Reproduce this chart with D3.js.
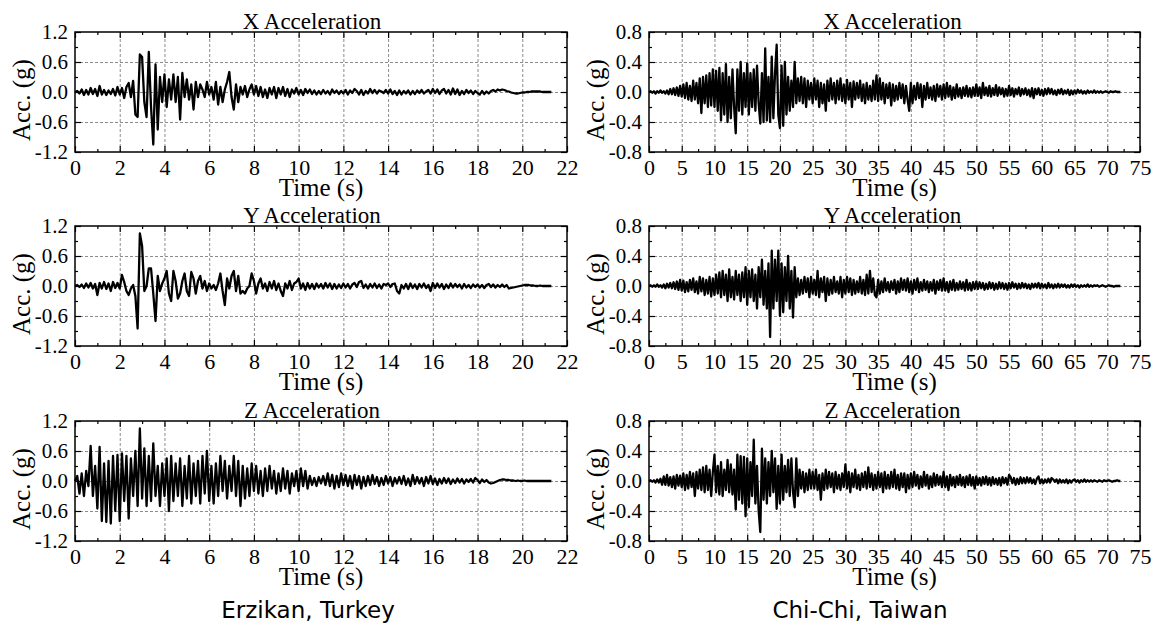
<!DOCTYPE html>
<html>
<head>
<meta charset="utf-8">
<script src="https://cdn.jsdelivr.net/npm/d3@7"></script>
<style>
  body { margin: 0; background: #fff; }
  svg { display: block; }
  .tick text { font-family: "Liberation Serif", "Times New Roman", serif; fill: #000; }
  .grid line { stroke: #8c8c8c; stroke-dasharray: 3,2; stroke-width: 1; }
  .grid .domain { display: none; }
  .frame .domain { display: none; }
  .frame line { stroke: #000; stroke-width: 1.2; }
  .title, .axis-label { font-family: "Liberation Serif", "Times New Roman", serif; fill: #000; }
  .caption { font-family: "DejaVu Sans", Verdana, sans-serif; fill: #000; }
  .trace { fill: none; stroke: #000; stroke-width: 2.3; stroke-linejoin: round; }
</style>
</head>
<body>
<div id="chart"></div>
<script>
/* CONSTANTS AND GLOBALS */
const width = 1154,
  height = 626;

// sample spacing (s) of the hand-read records
const erzStep = 0.1;
const chiStep = 0.25;

/* DATA */
// Erzikan, Turkey, dt = 0.1 s
const erzX = [
  0, 0.02, -0.03, 0.05, -0.06, 0.04, -0.05, 0.08, -0.04, 0.06,
  -0.08, 0.12, -0.05, 0.04, -0.06, 0.03, -0.04, 0.06, -0.07, 0.1,
  -0.05, 0.08, -0.12, 0.1, 0.18, -0.1, 0.22, -0.45, -0.5, 0.75,
  0.7, -0.2, -0.5, 0.8, -0.3, -1.05, 0.55, -0.75, 0.3, -0.2,
  0.35, -0.3, 0.25, -0.15, 0.35, -0.2, 0.3, -0.55, 0.38, -0.1,
  0.25, -0.15, 0.15, -0.35, 0.2, -0.1, 0.15, 0.05, -0.1, 0.2,
  -0.05, 0.1, -0.15, 0.2, -0.25, 0.1, -0.2, 0.05, 0.2, 0.4,
  -0.1, -0.35, 0.15, -0.2, 0.1, -0.05, 0.12, -0.1, 0.05, 0.15,
  -0.05, 0.12, -0.08, 0.1, -0.1, 0.05, -0.12, 0.08, -0.05, 0.1,
  -0.12, 0.08, -0.05, 0.1, -0.08, 0.06, -0.1, 0.05, -0.03, 0.08,
  -0.05, 0.04, -0.06, 0.06, -0.02, 0.05, -0.04, 0.03, -0.05, 0.02,
  -0.04, 0.04, -0.03, 0.02, -0.05, 0.05, -0.02, 0.03, -0.04, 0.02,
  -0.03, 0.04, -0.05, 0.03, -0.02, 0.06, 0.02, -0.05, 0.04, -0.06,
  0.02, -0.03, 0.06, -0.02, 0.04, -0.03, 0.03, 0.01, -0.02, 0.04,
  -0.03, 0.05, -0.04, 0.02, -0.06, 0.03, -0.05, 0.02, -0.03, 0.03,
  -0.05, 0.02, -0.04, 0.03, -0.02, 0.04, -0.03, 0.01, 0.04, -0.03,
  0.06, -0.02, 0.05, -0.04, 0.03, 0.06, -0.03, 0.04, -0.05, 0.07,
  -0.04, 0.05, -0.06, 0.02, -0.04, 0.04, -0.02, 0.03, -0.04, 0.02,
  -0.02, -0.05, 0.02, -0.04, 0.01, -0.03, 0.02, 0.04, 0.01, 0.05,
  0.03, 0.05, 0.04, 0.02, 0.01, -0.01, -0.02, -0.03, -0.03, -0.02,
  -0.01, -0.01, 0, 0, 0.01, 0.01, 0.01, 0.01, 0.01, 0,
  0, 0, 0, 0
];

const erzY = [
  0, 0.02, -0.02, 0.03, -0.04, 0.05, -0.03, 0.06, -0.05, 0.04,
  -0.18, 0.06, -0.05, 0.08, -0.06, 0.05, -0.1, 0.08, -0.04, 0.06,
  -0.05, 0.22, 0.08, -0.1, -0.18, -0.05, 0.02, -0.2, -0.85, 1.05,
  0.8, -0.1, 0, 0.35, 0.35, -0.15, -0.7, 0.2, -0.1, 0.05,
  0.15, 0.3, -0.15, -0.3, 0.3, 0.1, -0.25, -0.15, 0.1, 0.25,
  -0.1, -0.2, 0.28, 0.15, -0.15, 0.1, 0.2, -0.05, 0.1, -0.1,
  0.05, -0.05, 0.02, -0.08, 0.05, 0.25, -0.1, -0.38, 0.15, -0.05,
  0.2, 0.3, -0.1, 0.2, -0.15, -0.1, -0.15, -0.05, 0, 0.25,
  0.1, -0.15, 0.05, 0.15, -0.05, 0.05, -0.1, 0.08, -0.05, 0.1,
  -0.08, 0.05, -0.1, -0.2, 0.05, -0.05, 0.1, -0.08, 0.05, 0.08,
  0.15, -0.05, 0.05, -0.08, 0.06, -0.05, 0.04, -0.06, 0.05, -0.03,
  0.04, -0.05, 0.06, -0.03, 0.05, -0.06, 0.04, -0.05, 0.03, -0.04,
  0.05, -0.03, 0.04, -0.05, 0.03, 0.06, -0.02, 0.08, 0.1, -0.04,
  0.03, -0.05, 0.04, -0.03, 0.05, -0.04, 0.03, -0.05, 0.04, 0.02,
  0.05, -0.02, 0.04, 0.05, -0.1, -0.15, 0.02, -0.05, 0.04, -0.06,
  0.05, -0.04, 0.03, -0.06, 0.04, -0.03, 0.05, -0.04, 0.02, -0.1,
  0.06, -0.04, 0.05, -0.03, 0.04, -0.06, 0.03, -0.04, 0.05, -0.03,
  0.04, -0.02, 0.03, -0.05, 0.04, -0.03, 0.02, -0.04, 0.03, -0.02,
  0.03, -0.03, 0.02, -0.04, 0.02, 0.04, -0.02, 0.03, -0.03, 0.02,
  -0.02, 0.03, -0.02, 0.02, -0.05, -0.04, -0.03, -0.02, -0.01, 0,
  0.01, 0.02, 0.02, 0.02, 0.01, 0.01, 0, 0, 0.01, 0,
  0, 0, 0, 0
];

const erzZ = [
  0, 0.1, -0.25, 0.15, -0.3, 0.2, -0.1, 0.7, -0.3, 0.3,
  -0.55, 0.68, -0.8, 0.35, -0.82, 0.4, -0.85, 0.5, -0.6, 0.52,
  -0.8, 0.55, -0.4, 0.5, -0.75, 0.45, -0.3, 0.6, -0.5, 1.05,
  -0.35, 0.65, -0.5, 0.5, -0.4, 0.75, -0.3, 0.3, -0.5, 0.35,
  -0.3, 0.45, -0.6, 0.5, -0.4, 0.35, -0.3, 0.45, -0.5, 0.3,
  -0.35, 0.5, -0.45, 0.35, -0.3, 0.4, -0.45, 0.5, -0.25, 0.6,
  -0.4, 0.3, -0.45, 0.35, -0.3, 0.5, -0.2, 0.4, -0.35, 0.3,
  -0.2, 0.5, -0.3, 0.4, -0.5, 0.3, -0.35, 0.25, -0.3, 0.35,
  -0.2, 0.3, -0.25, 0.2, -0.3, 0.25, -0.2, 0.3, -0.15, 0.2,
  -0.25, 0.15, -0.2, 0.25, -0.15, 0.2, -0.25, 0.15, -0.1, 0.2,
  -0.2, 0.25, -0.1, 0.2, -0.15, 0.1, -0.08, 0.06, -0.1, 0.08,
  -0.05, 0.1, -0.08, 0.15, -0.1, 0.12, -0.15, 0.1, -0.12, 0.15,
  -0.08, 0.12, -0.1, 0.1, -0.15, 0.12, -0.08, 0.1, -0.15, 0.08,
  -0.1, 0.1, -0.08, 0.12, -0.06, 0.08, -0.1, 0.06, -0.08, 0.1,
  -0.05, 0.08, -0.1, 0.06, -0.05, 0.08, -0.06, 0.1, -0.08, 0.05,
  -0.1, 0.12, -0.06, 0.08, -0.05, 0.06, -0.1, 0.08, -0.05, 0.1,
  -0.06, 0.05, -0.08, 0.04, -0.05, 0.06, -0.04, 0.05, -0.06, 0.03,
  -0.04, 0.05, -0.03, 0.04, -0.05, 0.03, -0.02, 0.04, -0.03, 0.06,
  0.02, -0.04, 0.03, -0.02, 0.02, -0.03, -0.05, -0.04, -0.02, 0,
  0.02, 0.03, 0.03, 0.02, 0.02, 0.01, 0.01, 0, 0.01, 0,
  0, 0.01, 0, 0, 0, 0, 0, 0, 0, 0,
  0, 0, 0, 0
];

// Chi-Chi, Taiwan, dt = 0.25 s
const chiX = [
  0, 0.01, -0.01, 0.01, -0.02, 0.01, -0.01, 0.02, -0.01, 0.01, -0.02, 0.02, -0.03, 0.04, -0.03, 0.05, -0.04, 0.06, -0.05, 0.08,
  -0.06, 0.1, -0.08, 0.12, -0.1, 0.08, -0.12, 0.15, -0.1, 0.12, -0.15, 0.18, -0.28, 0.2, -0.15, 0.22, -0.2, 0.25, -0.18, 0.3,
  -0.2, 0.28, -0.25, 0.32, -0.38, 0.25, -0.3, 0.37, -0.4, 0.2, -0.35, 0.3, -0.2, -0.55, 0.3, -0.25, 0.4, -0.3, 0.25, -0.2,
  0.38, -0.3, 0.25, -0.2, 0.3, -0.25, 0.35, -0.15, -0.42, 0.25, -0.4, 0.58, -0.38, 0.2, -0.4, 0.47, -0.35, 0.25, 0.63, -0.3,
  -0.48, 0.35, -0.45, 0.4, -0.3, 0.2, -0.25, 0.15, -0.2, 0.4, -0.15, 0.18, -0.12, 0.2, -0.15, 0.18, -0.2, 0.15, -0.1, 0.12,
  -0.15, 0.18, -0.1, 0.15, -0.2, 0.12, -0.15, 0.1, -0.25, 0.15, -0.12, 0.18, -0.1, 0.12, -0.15, 0.15, -0.1, 0.18, -0.12, 0.1,
  -0.15, 0.16, -0.1, 0.12, -0.2, 0.14, -0.1, 0.12, -0.08, 0.15, -0.12, 0.1, -0.15, 0.12, -0.1, 0.08, -0.12, 0.15, -0.1, 0.22,
  -0.12, 0.18, -0.1, 0.12, -0.15, 0.1, -0.08, 0.12, -0.18, 0.1, -0.12, 0.08, -0.1, 0.12, -0.08, 0.1, -0.15, 0.08, -0.1, -0.25,
  0.12, -0.15, 0.08, -0.1, 0.12, -0.08, 0.1, -0.2, 0.08, -0.1, 0.12, -0.08, 0.06, -0.1, 0.08, -0.12, 0.1, -0.06, 0.08, -0.1,
  0.1, -0.08, 0.12, -0.06, 0.08, -0.1, 0.06, -0.08, 0.1, -0.06, 0.05, -0.08, 0.06, -0.05, 0.08, -0.06, 0.05, -0.07, 0.06, -0.05,
  0.1, -0.05, 0.06, -0.08, 0.12, -0.04, 0.06, -0.05, 0.08, -0.06, 0.05, -0.04, 0.09, -0.05, 0.06, -0.03, 0.05, -0.06, 0.04, -0.05,
  0.08, -0.04, 0.05, -0.06, 0.04, -0.03, 0.06, -0.05, 0.04, -0.03, 0.05, -0.04, 0.03, -0.06, 0.05, -0.08, 0.04, -0.03, 0.05, -0.04,
  0.03, -0.05, 0.04, -0.03, 0.05, -0.02, 0.04, -0.03, 0.02, -0.04, 0.03, -0.02, 0.04, -0.03, 0.02, -0.02, 0.03, -0.04, 0.02, -0.03,
  0.02, -0.02, 0.03, -0.01, 0.02, -0.02, 0.01, -0.02, 0.02, -0.01, 0.01, -0.01, 0.02, -0.01, 0.01, -0.01, 0.01, -0.01, 0, 0.01,
  0, -0.01, 0.01, 0, 0, 0.01, 0, 0, 0
];

const chiY = [
  0, 0.01, -0.01, 0.01, -0.01, 0.02, -0.01, 0.01, -0.02, 0.02, -0.03, 0.03, -0.02, 0.04, -0.03, 0.05, -0.04, 0.06, -0.05, 0.08,
  -0.06, 0.07, -0.08, 0.05, -0.07, 0.08, -0.05, 0.1, -0.08, 0.06, -0.1, 0.12, -0.07, 0.1, -0.12, 0.08, -0.1, 0.12, -0.14, 0.1,
  -0.12, 0.15, -0.1, 0.18, -0.15, 0.2, -0.12, 0.15, -0.2, 0.22, -0.15, 0.12, -0.18, 0.2, -0.12, 0.15, -0.2, 0.18, -0.15, 0.25,
  -0.25, 0.2, -0.15, 0.22, -0.2, 0.15, -0.3, 0.25, -0.15, 0.35, -0.25, 0.2, -0.3, 0.3, -0.68, 0.47, -0.3, 0.35, -0.2, 0.47,
  -0.4, 0.3, -0.35, 0.25, -0.2, 0.4, -0.3, 0.2, -0.42, 0.25, -0.15, 0.1, -0.12, 0.08, -0.1, 0.12, -0.08, 0.1, -0.15, 0.12,
  -0.1, 0.08, -0.12, 0.2, -0.15, 0.1, -0.08, 0.12, -0.2, 0.1, -0.12, 0.08, -0.1, 0.12, -0.08, 0.06, -0.1, 0.12, -0.15, 0.08,
  -0.1, 0.12, -0.08, 0.1, -0.12, 0.08, -0.1, 0.06, -0.08, 0.12, -0.1, 0.08, -0.12, 0.15, -0.1, 0.2, -0.08, 0.1, -0.12, -0.15,
  0.08, -0.1, 0.06, -0.08, 0.1, -0.06, 0.05, -0.08, 0.06, -0.05, 0.08, -0.1, 0.06, -0.08, 0.1, -0.05, 0.08, -0.06, 0.1, -0.08,
  0.06, -0.1, 0.08, -0.05, 0.1, -0.08, 0.05, -0.06, 0.08, -0.05, 0.06, -0.08, 0.05, -0.06, 0.08, -0.1, 0.06, -0.05, 0.08, -0.06,
  0.1, -0.06, 0.05, -0.08, 0.06, -0.05, 0.08, -0.06, 0.04, -0.05, 0.06, -0.04, 0.05, -0.06, 0.08, -0.05, 0.04, -0.06, 0.05, -0.04,
  0.06, -0.04, 0.05, -0.03, 0.04, -0.05, 0.03, -0.04, 0.05, -0.03, 0.04, -0.05, 0.03, -0.04, 0.05, -0.03, 0.04, -0.04, 0.03, -0.05,
  0.04, -0.03, 0.05, -0.02, 0.03, -0.04, 0.03, -0.03, 0.04, -0.02, 0.03, -0.03, 0.02, -0.04, 0.03, -0.02, 0.03, -0.02, 0.04, -0.03,
  0.03, -0.02, 0.02, -0.03, 0.04, -0.02, 0.02, -0.03, 0.02, -0.02, 0.03, -0.02, 0.02, -0.01, 0.02, -0.02, 0.01, -0.02, 0.02, -0.01,
  0.02, -0.01, 0.01, -0.02, 0.01, -0.01, 0.01, -0.01, 0.02, -0.01, 0.01, -0.01, 0.01, 0, 0.01, -0.01, 0, 0.01, 0, -0.01,
  0, 0.01, 0, 0, -0.01, 0, 0, 0, 0
];

const chiZ = [
  0, 0.01, -0.01, 0.01, -0.02, 0.02, -0.02, 0.03, -0.05, 0.06, -0.05, 0.08, -0.06, 0.05, -0.08, 0.06, -0.1, 0.08, -0.06, 0.07,
  -0.08, 0.1, -0.12, 0.08, -0.1, 0.12, -0.08, 0.1, -0.2, 0.12, -0.1, 0.15, -0.12, 0.18, -0.15, 0.2, -0.12, 0.15, -0.2, 0.12,
  0.35, -0.15, 0.2, -0.18, 0.25, -0.2, 0.15, -0.12, 0.28, -0.15, 0.22, -0.18, 0.15, -0.38, 0.35, -0.25, 0.33, -0.3, 0.32, -0.47,
  0.3, -0.35, 0.25, -0.2, 0.55, -0.3, 0.2, -0.4, -0.68, 0.43, -0.25, 0.3, -0.3, 0.25, -0.2, 0.4, -0.15, 0.3, -0.37, 0.2,
  -0.3, 0.35, -0.25, 0.2, -0.15, 0.28, -0.2, 0.3, -0.15, -0.35, 0.3, -0.2, 0.15, -0.1, 0.12, -0.15, 0.1, -0.12, 0.15, -0.1,
  0.12, -0.1, 0.15, -0.12, 0.08, -0.25, 0.1, -0.12, 0.15, -0.1, 0.12, -0.08, 0.1, -0.15, 0.12, -0.1, 0.08, -0.12, 0.1, -0.08,
  0.22, -0.1, 0.12, -0.15, 0.1, -0.08, 0.15, -0.1, 0.08, -0.12, 0.1, -0.08, 0.12, -0.1, 0.18, -0.08, 0.1, -0.12, 0.08, -0.1,
  0.12, -0.08, 0.1, -0.15, 0.12, -0.1, 0.08, -0.1, 0.12, -0.08, 0.15, -0.1, 0.08, -0.12, 0.1, -0.08, 0.1, -0.15, 0.08, -0.1,
  0.1, -0.08, 0.12, -0.06, 0.08, -0.1, 0.06, -0.08, 0.12, -0.06, 0.08, -0.1, 0.06, -0.08, 0.1, -0.06, 0.08, -0.05, 0.06, -0.08,
  0.12, -0.08, 0.06, -0.12, 0.08, -0.06, 0.05, -0.08, 0.06, -0.05, 0.08, -0.06, 0.05, -0.08, 0.06, -0.05, 0.08, -0.06, 0.05, -0.1,
  0.06, -0.05, 0.04, -0.06, 0.05, -0.04, 0.06, -0.05, 0.04, -0.06, 0.05, -0.04, 0.03, -0.05, 0.04, -0.06, 0.05, -0.03, 0.04, -0.05,
  0.08, 0.05, -0.03, 0.04, -0.05, 0.03, -0.04, 0.05, -0.03, 0.04, -0.03, 0.05, -0.02, 0.04, -0.03, 0.02, -0.04, 0.03, 0.06, -0.03,
  0.02, -0.03, 0.02, -0.02, 0.03, -0.02, 0.04, 0.02, -0.01, 0.02, -0.03, 0.02, -0.02, 0.01, -0.02, 0.02, -0.03, 0.01, -0.02, 0.01,
  0.02, -0.01, 0.01, -0.02, 0.01, -0.01, 0.02, -0.01, 0.01, -0.01, 0.01, -0.01, 0.01, 0, -0.01, 0.01, 0, -0.01, 0.01, 0,
  0, 0.01, 0, -0.01, 0, 0, 0.01, 0, 0
];

const rowTitles = ["X Acceleration", "Y Acceleration", "Z Acceleration"];
const captions = ["Erzikan, Turkey", "Chi-Chi, Taiwan"];

// tick values
const erzTimeTicks = [0, 2, 4, 6, 8, 10, 12, 14, 16, 18, 20, 22];
const erzAccTicks = [-1.2, -0.6, 0, 0.6, 1.2];
const chiTimeTicks = [0, 5, 10, 15, 20, 25, 30, 35, 40, 45, 50, 55, 60, 65, 70, 75];
const chiAccTicks = [-0.8, -0.4, 0, 0.4, 0.8];

/* LAYOUT */
const rowTops = [32, 226, 421];
const plotH = 120;
const cols = [
  { x0: 75, x1: 567, step: erzStep, series: [erzX, erzY, erzZ],
    tTicks: erzTimeTicks, aTicks: erzAccTicks, titleShift: -9, captionX: 308 },
  { x0: 649, x1: 1140, step: chiStep, series: [chiX, chiY, chiZ],
    tTicks: chiTimeTicks, aTicks: chiAccTicks, titleShift: -2, captionX: 860 }
];

const svg = d3.select("#chart")
  .append("svg")
  .attr("width", width)
  .attr("height", height);

// halfway points between majors are the minor ticks
function minorTicks(ticks) {
  return ticks.slice(1).map((t, i) => (t + ticks[i]) / 2);
}

cols.forEach((col, c) => {
  col.series.forEach((values, r) => {
    const top = rowTops[r];
    const bottom = top + plotH;

    const xScale = d3.scaleLinear()
      .domain(d3.extent(col.tTicks))
      .range([col.x0, col.x1]);
    const yScale = d3.scaleLinear()
      .domain(d3.extent(col.aTicks))
      .range([bottom, top]);

    const g = svg.append("g");

    // dashed grid
    g.append("g")
      .attr("class", "grid")
      .attr("transform", `translate(0,${bottom})`)
      .call(d3.axisBottom(xScale).tickValues(col.tTicks.slice(1, -1)).tickSize(-plotH).tickFormat(""));
    g.append("g")
      .attr("class", "grid")
      .attr("transform", `translate(${col.x0},0)`)
      .call(d3.axisLeft(yScale).tickValues(col.aTicks.slice(1, -1)).tickSize(-(col.x1 - col.x0)).tickFormat(""));

    // trace
    const line = d3.line()
      .x((d, i) => xScale(i * col.step))
      .y(d => yScale(d));
    g.append("path")
      .datum(values)
      .attr("class", "trace")
      .attr("d", line);

    // frame
    g.append("rect")
      .attr("x", col.x0)
      .attr("y", top)
      .attr("width", col.x1 - col.x0)
      .attr("height", plotH)
      .attr("fill", "none")
      .attr("stroke", "#000")
      .attr("stroke-width", 1.5);

    // inward ticks on all four sides
    const xMinor = minorTicks(col.tTicks);
    const yMinor = minorTicks(col.aTicks);

    const xBottom = g.append("g")
      .attr("class", "frame")
      .attr("transform", `translate(0,${bottom})`)
      .call(d3.axisBottom(xScale).tickValues(col.tTicks).tickSizeInner(-6).tickSizeOuter(0).tickPadding(7).tickFormat(d3.format("d")));
    xBottom.selectAll("text").attr("font-size", 22).attr("dy", "0.71em");
    g.append("g").attr("class", "frame")
      .attr("transform", `translate(0,${bottom})`)
      .call(d3.axisBottom(xScale).tickValues(xMinor).tickSizeInner(-3).tickSizeOuter(0).tickFormat(""));
    g.append("g").attr("class", "frame")
      .attr("transform", `translate(0,${top})`)
      .call(d3.axisTop(xScale).tickValues(col.tTicks).tickSizeInner(-6).tickSizeOuter(0).tickFormat(""));
    g.append("g").attr("class", "frame")
      .attr("transform", `translate(0,${top})`)
      .call(d3.axisTop(xScale).tickValues(xMinor).tickSizeInner(-3).tickSizeOuter(0).tickFormat(""));

    const yLeft = g.append("g")
      .attr("class", "frame")
      .attr("transform", `translate(${col.x0},0)`)
      .call(d3.axisLeft(yScale).tickValues(col.aTicks).tickSizeInner(-6).tickSizeOuter(0).tickPadding(7).tickFormat(d => d.toFixed(1)));
    yLeft.selectAll("text").attr("font-size", 21);
    g.append("g").attr("class", "frame")
      .attr("transform", `translate(${col.x0},0)`)
      .call(d3.axisLeft(yScale).tickValues(yMinor).tickSizeInner(-3).tickSizeOuter(0).tickFormat(""));
    g.append("g").attr("class", "frame")
      .attr("transform", `translate(${col.x1},0)`)
      .call(d3.axisRight(yScale).tickValues(col.aTicks).tickSizeInner(-6).tickSizeOuter(0).tickFormat(""));
    g.append("g").attr("class", "frame")
      .attr("transform", `translate(${col.x1},0)`)
      .call(d3.axisRight(yScale).tickValues(yMinor).tickSizeInner(-3).tickSizeOuter(0).tickFormat(""));

    // labels
    const midX = (col.x0 + col.x1) / 2;
    g.append("text")
      .attr("class", "title")
      .attr("x", midX + col.titleShift)
      .attr("y", top - 3)
      .attr("text-anchor", "middle")
      .attr("font-size", 23)
      .text(rowTitles[r]);
    g.append("text")
      .attr("class", "axis-label")
      .attr("x", midX)
      .attr("y", bottom + 44)
      .attr("text-anchor", "middle")
      .attr("font-size", 25)
      .text("Time (s)");
    g.append("text")
      .attr("class", "axis-label")
      .attr("transform", `translate(${col.x0 - 45},${top + plotH / 2 + 8}) rotate(-90)`)
      .attr("text-anchor", "middle")
      .attr("font-size", 25)
      .text("Acc. (g)");
  });

  svg.append("text")
    .attr("class", "caption")
    .attr("x", col.captionX)
    .attr("y", 618)
    .attr("text-anchor", "middle")
    .attr("font-size", 23)
    .text(captions[c]);
});
</script>
</body>
</html>
